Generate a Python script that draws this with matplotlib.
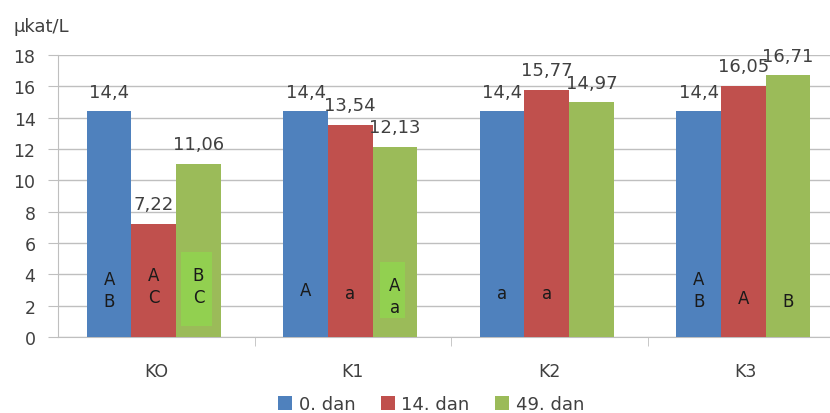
import matplotlib
matplotlib.use("Agg")
import matplotlib.pyplot as plt
from matplotlib.patches import Rectangle
import numpy as np

plt.rcParams['font.family'] = ['DejaVu Sans']

categories = ["KO", "K1", "K2", "K3"]
series_names = ["0. dan", "14. dan", "49. dan"]
day0 = [14.4, 14.4, 14.4, 14.4]
day14 = [7.22, 13.54, 15.77, 16.05]
day49 = [11.06, 12.13, 14.97, 16.71]
value_labels = [["14,4", "14,4", "14,4", "14,4"],
                ["7,22", "13,54", "15,77", "16,05"],
                ["11,06", "12,13", "14,97", "16,71"]]
letters = [["A\nB", "A", "a", "A\nB"],
           ["A\nC", "a", "a", "A"],
           ["B\nC", "A\na", "", "B"]]
letter_y = [[3.0, 3.0, 2.8, 3.0],
            [3.25, 2.8, 2.8, 2.5],
            [3.25, 2.6, 0, 2.3]]
highlight = [[None, None, None, None],
             [None, None, None, None],
             [(0.7, 5.42, 0.68), (1.2, 4.8, 0.56), None, None]]
colors = ["#4F81BD", "#C0504D", "#9BBB59"]
hl_color = "#92D050"
text_color = "#404040"

fig = plt.figure(figsize=(8.3, 4.14), dpi=100)
ax = fig.add_axes([58/830, 76/414, (844-58)/830, 282/414])

x = np.arange(len(categories))
w = 0.227
data = [day0, day14, day49]
for i, (vals, c, name) in enumerate(zip(data, colors, series_names)):
    pos = x + (i - 1) * w - 0.0125
    ax.bar(pos, vals, width=w, color=c, label=name, zorder=3)
    for j, v in enumerate(vals):
        ax.text(pos[j], v + 1.25, value_labels[i][j], ha='center', va='center',
                fontsize=13, color=text_color, zorder=5)
        hl = highlight[i][j]
        if hl is not None:
            hw = w * hl[2]
            ax.add_patch(Rectangle((pos[j] - 0.01 - hw / 2, hl[0]), hw, hl[1] - hl[0],
                                   color=hl_color, zorder=4, linewidth=0))
        if letters[i][j]:
            ax.text(pos[j], letter_y[i][j], letters[i][j], ha='center', va='center',
                    fontsize=12, color='#1a1a1a', linespacing=1.3, zorder=5)

ax.set_ylim(0, 18)
ax.set_xlim(-0.5, 3.5)
ax.set_yticks(range(0, 19, 2))
ax.set_yticklabels([str(v) for v in range(0, 19, 2)], fontsize=12.5, color=text_color)
ax.set_xticks(x)
ax.set_xticklabels(categories, fontsize=12.5, color=text_color)
ax.tick_params(axis='x', length=0, pad=18)
ax.tick_params(axis='y', length=7.2, color='#BFBFBF', pad=9)
ax.set_xticks([0.5, 1.5, 2.5], minor=True)
ax.tick_params(axis='x', which='minor', length=6.5, color='#BFBFBF')
ax.grid(axis='y', color='#BFBFBF', linewidth=1, zorder=0)
for s in ['top', 'right']:
    ax.spines[s].set_visible(False)
ax.spines['left'].set_color('#BFBFBF')
ax.spines['bottom'].set_color('#BFBFBF')

fig.text(13/830, 1 - 27/414, "µkat/L", fontsize=13, color=text_color, va='center', ha='left')

fig.legend(loc='center', bbox_to_anchor=(431/830, 1 - 405/414), ncol=3, frameon=False,
           fontsize=13, handlelength=0.8, handleheight=0.8, handletextpad=0.35,
           columnspacing=1.4, labelcolor=text_color)

fig.savefig("out.png", dpi=100)
